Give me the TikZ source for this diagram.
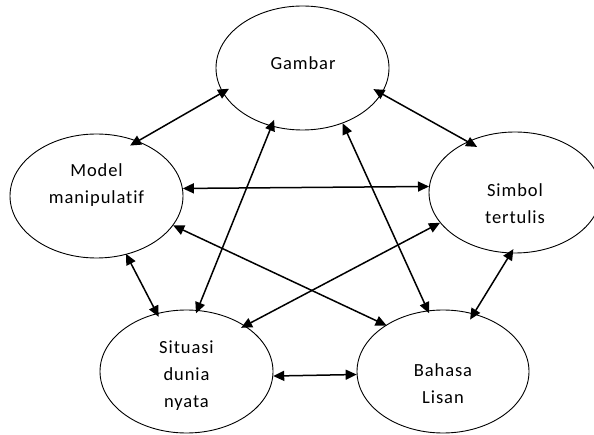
\documentclass[tikz,border=0pt]{standalone}
\usepackage{fontspec}
\setmainfont{Carlito}[LetterSpace=5,Ligatures={NoCommon,NoContextual}]
\usetikzlibrary{arrows.meta,shapes.geometric}
\begin{document}
\begin{tikzpicture}[x=1pt,y=-1pt,
  bub/.style={draw,ellipse,line width=0.9pt,inner sep=0pt},
  lbl/.style={font=\fontsize{18.5}{27}\selectfont,align=center,inner sep=0pt},
  arr/.style={{Triangle[length=11pt,width=10pt]}-{Triangle[length=11pt,width=10pt]},line width=1.5pt}]
\useasboundingbox (0,0) rectangle (594,435);
\node[bub,minimum width=173pt,minimum height=124pt] (G) at (302.5,68) {};
\node[bub,minimum width=173pt,minimum height=124pt] (M) at (96.5,196) {};
\node[bub,minimum width=172pt,minimum height=121pt] (S) at (515,192.5) {};
\node[bub,minimum width=173pt,minimum height=123pt] (T) at (186.5,371.5) {};
\node[bub,minimum width=172pt,minimum height=123pt] (B) at (443,371.5) {};
\node[lbl] (tG) at (303,63) {Gambar};
\node[lbl] (tM) at (96.5,185.5) {Model\\manipulatif};
\node[lbl] (tS) at (515,203.5) {Simbol\\tertulis};
\node[lbl] (tT) at (186.5,375.5) {Situasi\\dunia\\nyata};
\node[lbl] (tB) at (443,383.5) {Bahasa\\Lisan};
\draw[arr,shorten <=-9pt,shorten >=-7.5pt] (M.53) -- (G.197);
\draw[arr,shorten <=-9.5pt,shorten >=-11pt] (G.-18) -- (S.133);
\draw[arr] (M.5) -- (S.176);
\draw[arr,shorten >=-1pt] (M.-21) -- (B.141);
\draw[arr,shorten >=-4.5pt] (S.202) -- (T.38);
\draw[arr,shorten <=-7pt,shorten >=-3.5pt] (G.242) -- (T.80);
\draw[arr,shorten >=-3pt] (G.-54) -- (B.104);
\draw[arr,shorten <=-1pt,shorten >=-4pt] (M.-63) -- (T.117);
\draw[arr,shorten <=-5pt,shorten >=-7pt] (S.266) -- (B.62);
\draw[arr] (T.-3) -- (B.182);
\end{tikzpicture}
\end{document}
